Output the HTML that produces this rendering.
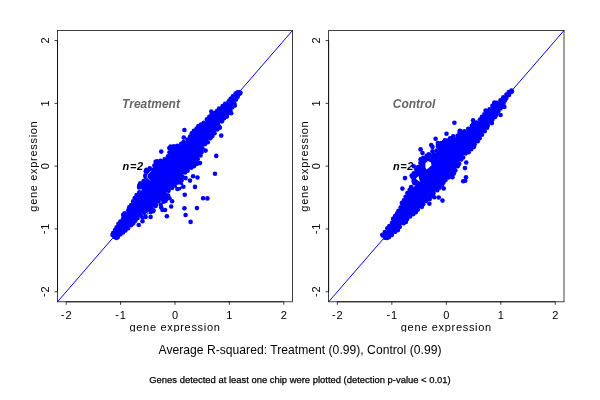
<!DOCTYPE html>
<html><head><meta charset="utf-8"><style>
html,body{margin:0;padding:0;background:#fff;width:600px;height:400px;overflow:hidden}
svg{display:block;will-change:transform}
text{font-family:"Liberation Sans",sans-serif}
.tk{font-size:11px;fill:#000}
.lab{font-size:11px;letter-spacing:0.69px;fill:#000}
.ttl{font-size:12px;font-weight:bold;font-style:italic;fill:#666}
.n{font-size:11px;letter-spacing:0.6px;font-weight:bold;font-style:italic;fill:#000}
.m1{font-size:12.1px;letter-spacing:0.03px;fill:#000}
.m2{font-size:9.43px;fill:#000;stroke:#000;stroke-width:0.25px}
</style></head><body>
<svg width="600" height="400" viewBox="0 0 600 400">
<defs><clipPath id="clipb"><rect x="0" y="0" width="600" height="332"/></clipPath></defs>
<text x="122.1" y="108" class="ttl">Treatment</text>
<text x="122.6" y="169.7" class="n">n=2</text>
<g fill="#0000ff"><path d="M112.44,233.98 L112.58,234.95 L113.97,236.38 L116.42,237.79 L117.26,237.54 L118.85,235.45 L119.00,235.28 L119.17,235.12 L122.22,232.66 L122.23,232.65 L125.36,230.17 L129.08,226.95 L129.13,226.90 L131.54,224.98 L133.43,222.89 L135.38,220.46 L135.48,220.35 L135.58,220.24 L137.97,218.04 L139.87,215.67 L140.01,215.51 L140.17,215.37 L142.53,213.48 L142.68,213.38 L142.83,213.29 L142.99,213.21 L143.16,213.15 L143.34,213.10 L146.20,212.52 L147.73,210.94 L147.87,210.81 L151.54,207.73 L151.69,207.61 L151.86,207.51 L152.03,207.43 L155.67,205.90 L156.09,203.68 L156.13,203.51 L156.19,203.34 L156.26,203.18 L156.35,203.02 L156.45,202.88 L156.56,202.74 L156.69,202.62 L156.82,202.51 L158.94,200.94 L159.10,200.83 L159.28,200.74 L159.45,200.67 L159.64,200.62 L159.83,200.58 L160.02,200.57 L160.22,200.57 L160.41,200.60 L160.60,200.64 L160.78,200.70 L163.50,201.79 L165.15,201.13 L166.08,200.02 L165.86,194.12 L165.86,193.93 L165.88,193.75 L165.92,193.57 L165.97,193.39 L166.05,193.22 L166.13,193.06 L166.24,192.91 L166.35,192.77 L166.48,192.64 L166.63,192.52 L167.97,191.52 L169.48,189.28 L169.60,189.12 L169.73,188.97 L169.88,188.84 L170.04,188.73 L170.22,188.63 L170.40,188.56 L170.59,188.50 L173.70,187.69 L173.88,187.66 L174.07,187.64 L174.25,187.64 L174.43,187.65 L174.61,187.69 L174.79,187.74 L174.96,187.80 L175.12,187.89 L177.39,189.19 L179.44,188.29 L181.05,185.69 L180.72,183.18 L180.71,182.99 L180.71,182.80 L180.74,182.62 L180.78,182.43 L182.39,176.58 L182.44,176.40 L182.52,176.23 L183.68,173.90 L183.77,173.75 L183.87,173.60 L183.98,173.47 L184.11,173.34 L184.24,173.23 L184.39,173.13 L187.23,171.39 L188.98,169.65 L189.11,169.52 L189.26,169.41 L192.86,167.01 L195.21,164.66 L195.33,164.55 L195.46,164.45 L195.60,164.36 L198.00,162.95 L198.00,158.96 L198.01,158.77 L198.04,158.59 L198.08,158.41 L198.14,158.23 L198.22,158.06 L198.32,157.90 L198.43,157.75 L198.56,157.61 L200.61,155.56 L201.12,152.87 L201.19,152.62 L203.05,147.12 L203.12,146.94 L203.21,146.77 L203.32,146.60 L205.08,144.22 L205.20,144.09 L205.32,143.96 L205.46,143.84 L207.60,142.22 L208.64,139.63 L208.73,139.45 L208.83,139.27 L208.95,139.11 L209.09,138.97 L209.24,138.83 L209.41,138.72 L212.08,137.08 L213.80,134.28 L213.84,134.22 L216.30,130.53 L216.40,130.39 L216.52,130.25 L216.65,130.13 L219.67,127.60 L219.30,126.16 L219.26,125.97 L219.24,125.78 L219.24,125.59 L219.26,125.40 L219.30,125.21 L219.35,125.03 L219.43,124.85 L219.52,124.69 L221.28,121.82 L221.40,121.64 L221.55,121.47 L223.91,119.11 L226.30,115.53 L226.40,115.39 L226.52,115.25 L226.65,115.13 L230.09,112.24 L231.81,108.22 L231.86,108.10 L233.75,104.37 L236.25,99.38 L236.25,99.37 L238.13,95.66 L238.22,95.51 L238.32,95.36 L240.19,92.91 L239.48,92.24 L237.51,92.37 L235.92,93.56 L232.28,97.20 L228.59,101.47 L228.46,101.62 L228.31,101.75 L223.35,105.51 L223.30,105.55 L219.00,108.58 L215.99,111.49 L215.86,111.61 L210.90,115.57 L207.61,118.39 L206.30,120.84 L206.21,120.99 L206.11,121.13 L205.99,121.26 L205.87,121.38 L205.73,121.48 L205.59,121.58 L202.03,123.67 L198.43,126.35 L195.41,129.47 L195.39,129.49 L192.12,132.76 L190.63,135.38 L190.55,135.50 L188.66,138.28 L188.64,138.32 L187.23,140.28 L187.11,140.44 L186.97,140.58 L186.82,140.70 L186.66,140.81 L186.49,140.90 L186.31,140.97 L182.08,142.44 L180.58,144.27 L180.45,144.41 L180.31,144.54 L180.15,144.65 L179.99,144.75 L179.82,144.83 L179.63,144.89 L176.66,145.74 L176.49,145.78 L170.69,146.89 L169.60,147.98 L169.87,149.67 L169.89,149.87 L169.89,150.07 L169.87,150.27 L169.83,150.46 L168.87,154.05 L168.80,154.26 L168.71,154.46 L166.92,157.81 L166.82,157.96 L166.72,158.11 L166.60,158.24 L166.46,158.37 L166.32,158.48 L166.16,158.57 L166.00,158.65 L161.88,160.45 L161.71,160.52 L161.53,160.57 L161.36,160.60 L155.85,161.30 L155.70,161.55 L154.53,166.06 L154.47,166.24 L154.40,166.41 L154.31,166.58 L154.20,166.73 L154.08,166.88 L153.95,167.01 L153.80,167.12 L153.64,167.23 L153.48,167.31 L153.30,167.38 L153.12,167.43 L148.02,168.62 L146.22,169.66 L145.86,171.17 L146.52,173.01 L146.57,173.18 L146.61,173.35 L146.63,173.53 L146.63,173.71 L146.62,173.89 L146.59,174.07 L146.54,174.24 L146.47,174.41 L146.39,174.57 L146.30,174.73 L146.19,174.87 L145.35,175.87 L145.90,177.32 L145.96,177.50 L146.00,177.68 L146.02,177.87 L146.02,178.06 L146.01,178.24 L145.98,178.43 L145.92,178.61 L145.86,178.78 L145.77,178.95 L145.67,179.10 L145.55,179.25 L143.60,181.47 L143.47,181.60 L143.32,181.73 L143.17,181.83 L140.47,183.49 L139.01,186.37 L139.27,187.18 L140.63,188.03 L140.78,188.14 L140.92,188.25 L141.05,188.38 L141.16,188.53 L141.26,188.68 L141.35,188.84 L141.42,189.01 L141.47,189.19 L141.50,189.37 L141.52,189.55 L141.52,189.73 L141.50,189.92 L141.47,190.10 L141.42,190.27 L141.35,190.44 L141.26,190.60 L141.16,190.76 L141.05,190.90 L140.92,191.03 L140.78,191.15 L138.42,192.96 L136.16,195.22 L134.78,198.07 L133.82,200.47 L133.74,200.65 L133.64,200.82 L131.18,204.50 L129.38,207.50 L128.29,210.67 L128.21,210.86 L128.12,211.03 L128.01,211.20 L127.88,211.35 L127.74,211.49 L127.58,211.61 L127.41,211.72 L124.17,213.51 L123.45,215.00 L123.92,216.00 L124.00,216.17 L124.05,216.35 L124.09,216.53 L124.10,216.71 L124.11,216.90 L124.09,217.08 L124.05,217.26 L124.00,217.44 L123.93,217.61 L123.85,217.77 L123.75,217.93 L123.63,218.07 L121.69,220.28 L121.55,220.43 L121.39,220.56 L119.21,222.17 L117.51,225.60 L117.44,225.73 L115.62,228.79 L115.50,228.97 L113.70,231.33 L112.44,233.98Z"/><circle cx="240.50" cy="92.87" r="2.3"/><circle cx="239.50" cy="92.20" r="2.3"/><circle cx="237.51" cy="92.37" r="2.3"/><circle cx="235.48" cy="93.63" r="2.3"/><circle cx="232.88" cy="96.21" r="2.3"/><circle cx="230.59" cy="98.77" r="2.3"/><circle cx="228.71" cy="101.27" r="2.3"/><circle cx="225.11" cy="103.89" r="2.3"/><circle cx="222.59" cy="106.14" r="2.3"/><circle cx="219.12" cy="108.55" r="2.3"/><circle cx="216.96" cy="110.95" r="2.3"/><circle cx="214.44" cy="113.02" r="2.3"/><circle cx="211.54" cy="114.79" r="2.3"/><circle cx="209.23" cy="116.85" r="2.3"/><circle cx="206.91" cy="119.29" r="2.3"/><circle cx="203.82" cy="122.71" r="2.3"/><circle cx="201.04" cy="124.44" r="2.3"/><circle cx="198.40" cy="126.05" r="2.3"/><circle cx="196.56" cy="128.44" r="2.3"/><circle cx="193.88" cy="130.84" r="2.3"/><circle cx="191.77" cy="133.31" r="2.3"/><circle cx="190.12" cy="136.45" r="2.3"/><circle cx="187.59" cy="139.51" r="2.3"/><circle cx="183.57" cy="141.94" r="2.3"/><circle cx="181.23" cy="143.70" r="2.3"/><circle cx="177.29" cy="145.86" r="2.3"/><circle cx="173.95" cy="146.22" r="2.3"/><circle cx="170.55" cy="146.66" r="2.3"/><circle cx="169.29" cy="147.98" r="2.3"/><circle cx="169.50" cy="152.28" r="2.3"/><circle cx="168.02" cy="156.22" r="2.3"/><circle cx="164.69" cy="159.35" r="2.3"/><circle cx="160.62" cy="160.74" r="2.3"/><circle cx="157.07" cy="161.35" r="2.3"/><circle cx="155.59" cy="161.91" r="2.3"/><circle cx="154.38" cy="165.59" r="2.3"/><circle cx="149.74" cy="168.31" r="2.3"/><circle cx="146.40" cy="169.78" r="2.3"/><circle cx="145.79" cy="171.16" r="2.3"/><circle cx="145.39" cy="175.38" r="2.3"/><circle cx="145.53" cy="176.90" r="2.3"/><circle cx="143.62" cy="181.05" r="2.3"/><circle cx="140.27" cy="183.30" r="2.3"/><circle cx="139.16" cy="185.92" r="2.3"/><circle cx="139.13" cy="187.39" r="2.3"/><circle cx="139.31" cy="192.31" r="2.3"/><circle cx="136.58" cy="195.08" r="2.3"/><circle cx="134.69" cy="197.94" r="2.3"/><circle cx="133.15" cy="201.39" r="2.3"/><circle cx="131.22" cy="204.97" r="2.3"/><circle cx="129.20" cy="207.40" r="2.3"/><circle cx="128.26" cy="210.26" r="2.3"/><circle cx="124.59" cy="213.34" r="2.3"/><circle cx="123.18" cy="214.88" r="2.3"/><circle cx="123.12" cy="218.53" r="2.3"/><circle cx="120.37" cy="221.65" r="2.3"/><circle cx="118.44" cy="223.74" r="2.3"/><circle cx="116.65" cy="227.26" r="2.3"/><circle cx="114.95" cy="230.09" r="2.3"/><circle cx="113.10" cy="233.13" r="2.3"/><circle cx="112.49" cy="235.01" r="2.3"/><circle cx="114.39" cy="236.90" r="2.3"/><circle cx="116.52" cy="238.03" r="2.3"/><circle cx="118.01" cy="236.85" r="2.3"/><circle cx="120.47" cy="234.20" r="2.3"/><circle cx="123.00" cy="232.43" r="2.3"/><circle cx="125.46" cy="230.39" r="2.3"/><circle cx="128.07" cy="228.20" r="2.3"/><circle cx="131.08" cy="225.25" r="2.3"/><circle cx="133.24" cy="223.33" r="2.3"/><circle cx="135.30" cy="220.69" r="2.3"/><circle cx="137.59" cy="218.11" r="2.3"/><circle cx="140.67" cy="215.00" r="2.3"/><circle cx="144.59" cy="213.10" r="2.3"/><circle cx="146.46" cy="212.38" r="2.3"/><circle cx="148.84" cy="209.74" r="2.3"/><circle cx="151.61" cy="208.04" r="2.3"/><circle cx="155.66" cy="205.89" r="2.3"/><circle cx="155.89" cy="204.59" r="2.3"/><circle cx="158.51" cy="201.24" r="2.3"/><circle cx="163.50" cy="201.68" r="2.3"/><circle cx="165.57" cy="200.85" r="2.3"/><circle cx="166.24" cy="198.94" r="2.3"/><circle cx="165.87" cy="194.95" r="2.3"/><circle cx="168.53" cy="190.87" r="2.3"/><circle cx="171.93" cy="187.96" r="2.3"/><circle cx="177.40" cy="188.95" r="2.3"/><circle cx="179.20" cy="188.19" r="2.3"/><circle cx="180.95" cy="186.16" r="2.3"/><circle cx="180.89" cy="183.80" r="2.3"/><circle cx="181.68" cy="180.20" r="2.3"/><circle cx="182.44" cy="176.92" r="2.3"/><circle cx="185.08" cy="172.38" r="2.3"/><circle cx="187.60" cy="170.65" r="2.3"/><circle cx="191.28" cy="167.74" r="2.3"/><circle cx="193.95" cy="166.16" r="2.3"/><circle cx="196.84" cy="163.84" r="2.3"/><circle cx="197.95" cy="162.94" r="2.3"/><circle cx="197.80" cy="159.08" r="2.3"/><circle cx="200.58" cy="155.55" r="2.3"/><circle cx="201.66" cy="152.00" r="2.3"/><circle cx="202.43" cy="148.18" r="2.3"/><circle cx="204.87" cy="144.25" r="2.3"/><circle cx="207.78" cy="142.32" r="2.3"/><circle cx="210.30" cy="138.29" r="2.3"/><circle cx="212.36" cy="136.09" r="2.3"/><circle cx="214.56" cy="133.24" r="2.3"/><circle cx="217.34" cy="129.38" r="2.3"/><circle cx="219.86" cy="127.76" r="2.3"/><circle cx="219.15" cy="126.54" r="2.3"/><circle cx="221.95" cy="121.37" r="2.3"/><circle cx="224.07" cy="118.35" r="2.3"/><circle cx="226.92" cy="115.02" r="2.3"/><circle cx="229.85" cy="112.74" r="2.3"/><circle cx="230.46" cy="110.65" r="2.3"/><circle cx="232.33" cy="107.13" r="2.3"/><circle cx="234.28" cy="103.40" r="2.3"/><circle cx="235.92" cy="99.60" r="2.3"/><circle cx="237.71" cy="96.83" r="2.3"/><circle cx="239.74" cy="93.75" r="2.3"/><circle cx="153.50" cy="210.30" r="2.3"/><circle cx="234.80" cy="105.40" r="2.3"/><circle cx="231.20" cy="113.30" r="2.3"/><circle cx="226.80" cy="116.60" r="2.3"/><circle cx="211.30" cy="111.50" r="2.3"/><circle cx="184.40" cy="130.00" r="2.3"/><circle cx="183.75" cy="137.50" r="2.3"/><circle cx="161.25" cy="151.60" r="2.3"/><circle cx="221.25" cy="135.60" r="2.3"/><circle cx="216.25" cy="155.90" r="2.3"/><circle cx="215.00" cy="173.75" r="2.3"/><circle cx="205.60" cy="150.60" r="2.3"/><circle cx="200.00" cy="163.10" r="2.3"/><circle cx="193.10" cy="176.25" r="2.3"/><circle cx="197.50" cy="177.50" r="2.3"/><circle cx="190.00" cy="180.60" r="2.3"/><circle cx="185.60" cy="178.10" r="2.3"/><circle cx="195.00" cy="186.90" r="2.3"/><circle cx="183.40" cy="186.80" r="2.3"/><circle cx="184.75" cy="194.75" r="2.3"/><circle cx="203.10" cy="198.30" r="2.3"/><circle cx="207.40" cy="198.40" r="2.3"/><circle cx="184.40" cy="208.30" r="2.3"/><circle cx="196.90" cy="208.10" r="2.3"/><circle cx="185.60" cy="215.00" r="2.3"/><circle cx="190.60" cy="221.90" r="2.3"/><circle cx="166.90" cy="216.25" r="2.3"/><circle cx="150.60" cy="216.90" r="2.3"/><circle cx="145.60" cy="216.90" r="2.3"/><circle cx="172.10" cy="201.25" r="2.3"/><circle cx="171.20" cy="206.50" r="2.3"/><circle cx="168.10" cy="195.60" r="2.3"/><circle cx="169.40" cy="198.20" r="2.3"/><circle cx="160.70" cy="204.75" r="2.3"/><circle cx="161.25" cy="207.50" r="2.3"/><circle cx="162.50" cy="210.00" r="2.3"/><circle cx="165.00" cy="210.00" r="2.3"/><circle cx="153.10" cy="211.25" r="2.3"/><circle cx="150.60" cy="211.90" r="2.3"/><circle cx="138.75" cy="225.00" r="2.3"/><circle cx="142.50" cy="221.25" r="2.3"/><circle cx="142.50" cy="217.50" r="2.3"/></g><g fill="#fff"><polygon points="176.50,185.80 178.00,184.50 181.00,184.70 181.60,186.00 179.50,187.10 177.00,186.90"/></g><g fill="none" stroke="#fff" stroke-width="0.8" stroke-opacity="0.85" stroke-linecap="round"><path d="M151,171 L147.6,174.6 L147.1,177.2 L149.8,180.2"/><path d="M148.7,212.2 L146,214"/></g>
<line x1="57.5" y1="301.8" x2="292.5" y2="30.5" stroke="#0000ff" stroke-width="1"/>
<rect x="57.5" y="30.5" width="235.0" height="271.3" fill="none" stroke="#000" stroke-width="0.75"/>
<line x1="66.20370370370371" y1="301.8" x2="283.7962962962963" y2="301.8" stroke="#000" stroke-width="0.75"/>
<line x1="57.5" y1="291.7518518518519" x2="57.5" y2="40.54814814814819" stroke="#000" stroke-width="0.75"/>
<line x1="66.20" y1="301.8" x2="66.20" y2="304.8" stroke="#000" stroke-width="0.75"/>
<line x1="54.5" y1="291.75" x2="57.5" y2="291.75" stroke="#000" stroke-width="0.75"/>
<text x="66.20" y="319" class="tk" text-anchor="middle"><tspan dy="-1.1">-</tspan><tspan dy="1.1" dx="0.9">2</tspan></text>
<text transform="translate(48.5,291.75) rotate(-90)" class="tk" text-anchor="middle"><tspan dy="-1.1">-</tspan><tspan dy="1.1" dx="0.9">2</tspan></text>
<line x1="120.60" y1="301.8" x2="120.60" y2="304.8" stroke="#000" stroke-width="0.75"/>
<line x1="54.5" y1="228.95" x2="57.5" y2="228.95" stroke="#000" stroke-width="0.75"/>
<text x="120.60" y="319" class="tk" text-anchor="middle"><tspan dy="-1.1">-</tspan><tspan dy="1.1" dx="0.9">1</tspan></text>
<text transform="translate(48.5,228.95) rotate(-90)" class="tk" text-anchor="middle"><tspan dy="-1.1">-</tspan><tspan dy="1.1" dx="0.9">1</tspan></text>
<line x1="175.00" y1="301.8" x2="175.00" y2="304.8" stroke="#000" stroke-width="0.75"/>
<line x1="54.5" y1="166.15" x2="57.5" y2="166.15" stroke="#000" stroke-width="0.75"/>
<text x="175.00" y="319" class="tk" text-anchor="middle">0</text>
<text transform="translate(48.5,166.15) rotate(-90)" class="tk" text-anchor="middle">0</text>
<line x1="229.40" y1="301.8" x2="229.40" y2="304.8" stroke="#000" stroke-width="0.75"/>
<line x1="54.5" y1="103.35" x2="57.5" y2="103.35" stroke="#000" stroke-width="0.75"/>
<text x="229.40" y="319" class="tk" text-anchor="middle">1</text>
<text transform="translate(48.5,103.35) rotate(-90)" class="tk" text-anchor="middle">1</text>
<line x1="283.80" y1="301.8" x2="283.80" y2="304.8" stroke="#000" stroke-width="0.75"/>
<line x1="54.5" y1="40.55" x2="57.5" y2="40.55" stroke="#000" stroke-width="0.75"/>
<text x="283.80" y="319" class="tk" text-anchor="middle">2</text>
<text transform="translate(48.5,40.55) rotate(-90)" class="tk" text-anchor="middle">2</text>
<text x="175.00" y="330.8" class="lab" text-anchor="middle" clip-path="url(#clipb)">gene expression</text>
<text transform="translate(37.2,166.15) rotate(-90)" class="lab" text-anchor="middle">gene expression</text>
<text x="392.8" y="108" class="ttl">Control</text>
<text x="393.0" y="169.7" class="n">n=2</text>
<g fill="#0000ff"><path d="M382.41,235.29 L383.03,236.14 L384.95,237.76 L386.62,238.31 L388.08,238.09 L389.23,236.95 L389.36,236.82 L389.51,236.71 L391.55,235.35 L393.28,233.26 L393.40,233.13 L393.53,233.01 L393.67,232.90 L395.81,231.45 L395.84,231.42 L397.87,230.10 L399.55,227.38 L399.62,227.27 L401.38,224.81 L401.49,224.67 L401.61,224.54 L401.74,224.42 L401.88,224.32 L402.04,224.23 L402.20,224.15 L404.51,223.19 L406.33,221.65 L407.41,218.97 L407.49,218.80 L407.59,218.63 L407.70,218.48 L407.83,218.34 L410.87,215.30 L410.98,215.20 L411.10,215.10 L411.24,215.02 L414.20,213.25 L417.09,210.92 L418.83,208.63 L418.94,208.49 L419.07,208.37 L419.20,208.26 L419.35,208.16 L422.03,206.51 L423.69,203.23 L423.79,203.07 L423.90,202.91 L424.03,202.76 L424.17,202.63 L424.33,202.51 L429.61,198.98 L434.43,192.33 L434.53,192.20 L434.64,192.08 L434.77,191.97 L438.42,188.99 L442.61,184.18 L444.37,181.24 L444.45,181.10 L444.55,180.98 L444.65,180.87 L447.71,177.81 L447.84,177.69 L447.97,177.59 L448.11,177.50 L452.19,175.16 L455.01,171.80 L456.15,168.37 L456.21,168.21 L456.29,168.06 L456.37,167.92 L458.73,164.38 L459.88,160.92 L459.95,160.75 L460.03,160.60 L460.12,160.45 L460.22,160.31 L460.34,160.18 L463.13,157.39 L463.59,155.48 L463.64,155.30 L463.72,155.12 L463.81,154.95 L463.92,154.79 L464.04,154.64 L464.18,154.50 L464.33,154.38 L464.50,154.28 L468.54,151.98 L470.91,149.61 L473.81,146.71 L474.91,143.97 L474.99,143.80 L475.09,143.64 L475.20,143.49 L475.32,143.35 L478.87,139.75 L481.85,134.36 L481.95,134.21 L482.06,134.06 L485.13,130.41 L486.32,128.65 L486.41,128.52 L486.52,128.40 L487.46,127.42 L487.99,124.90 L488.04,124.71 L488.11,124.53 L488.20,124.35 L488.30,124.19 L488.42,124.04 L488.55,123.90 L488.70,123.77 L490.84,122.15 L492.52,119.34 L492.60,119.20 L492.70,119.08 L492.80,118.97 L495.10,116.67 L497.46,111.95 L497.56,111.77 L497.68,111.60 L497.82,111.45 L501.33,107.94 L504.31,101.36 L504.38,101.23 L504.45,101.10 L506.92,97.35 L507.03,97.20 L509.49,94.14 L509.63,93.99 L511.84,91.78 L511.96,91.34 L511.40,90.67 L510.52,90.75 L508.42,92.31 L502.24,98.49 L502.23,98.50 L499.14,101.54 L498.99,101.67 L498.84,101.78 L498.67,101.88 L495.15,103.69 L493.00,105.32 L491.89,107.45 L491.79,107.62 L491.68,107.78 L491.54,107.92 L491.40,108.06 L488.40,110.47 L488.22,110.60 L486.49,111.70 L483.01,115.26 L481.21,118.20 L481.06,118.42 L478.07,122.03 L477.95,122.16 L477.82,122.28 L477.68,122.39 L477.52,122.48 L477.36,122.56 L477.20,122.63 L472.24,124.25 L471.30,126.13 L471.20,126.30 L471.09,126.46 L470.96,126.61 L470.82,126.74 L467.18,129.79 L467.06,129.89 L466.92,129.98 L463.97,131.71 L463.80,131.80 L463.62,131.87 L463.43,131.93 L463.23,131.96 L463.04,131.97 L462.84,131.97 L462.65,131.94 L460.59,131.54 L459.26,133.28 L457.55,136.15 L457.45,136.30 L457.34,136.43 L457.22,136.56 L457.09,136.68 L456.94,136.78 L456.79,136.87 L456.63,136.94 L456.46,137.00 L452.41,138.21 L450.02,139.36 L446.28,141.23 L446.08,141.31 L445.87,141.37 L443.54,141.93 L440.55,143.19 L440.50,143.21 L438.15,144.12 L437.63,147.11 L437.59,147.31 L436.40,151.44 L436.34,151.61 L436.27,151.78 L436.17,151.94 L436.07,152.09 L435.94,152.23 L435.81,152.36 L435.66,152.47 L435.51,152.57 L431.78,154.67 L431.60,154.76 L431.43,154.82 L431.24,154.87 L431.05,154.90 L429.05,155.13 L427.04,155.80 L422.33,158.15 L420.90,159.58 L420.90,161.92 L420.89,162.12 L420.86,162.32 L420.80,162.52 L419.88,165.29 L419.81,165.47 L419.72,165.64 L419.62,165.80 L419.50,165.95 L419.36,166.09 L419.22,166.21 L417.50,167.50 L416.17,169.27 L414.25,172.64 L414.16,172.78 L414.06,172.91 L413.94,173.04 L412.14,174.84 L412.00,174.97 L411.85,175.08 L411.69,175.18 L411.68,175.18 L411.56,175.55 L412.85,177.27 L412.95,177.41 L413.03,177.56 L413.10,177.71 L413.15,177.87 L413.20,178.04 L413.77,180.89 L414.27,182.91 L414.77,183.44 L414.89,183.59 L415.00,183.74 L415.09,183.91 L415.17,184.08 L415.22,184.26 L415.26,184.44 L415.28,184.63 L415.28,184.82 L415.27,185.01 L415.23,185.19 L415.18,185.38 L415.10,185.55 L415.01,185.72 L414.91,185.87 L414.79,186.02 L414.66,186.15 L414.51,186.27 L414.35,186.38 L414.18,186.46 L414.01,186.54 L413.83,186.59 L413.64,186.62 L413.45,186.64 L412.09,186.69 L411.12,187.07 L410.74,188.20 L410.69,188.35 L410.62,188.49 L409.82,190.01 L409.80,190.05 L409.74,190.21 L409.66,190.37 L409.57,190.51 L409.47,190.65 L409.35,190.78 L408.05,192.08 L404.36,199.36 L404.25,199.55 L401.89,203.09 L400.77,207.19 L400.71,207.39 L400.62,207.57 L400.51,207.75 L398.11,211.31 L396.27,214.98 L396.19,215.14 L396.09,215.28 L394.23,217.73 L394.12,217.86 L393.35,218.70 L392.37,222.06 L392.31,222.22 L392.24,222.37 L392.16,222.52 L392.07,222.66 L389.89,225.56 L389.71,225.77 L387.28,228.20 L386.32,230.48 L386.24,230.65 L386.14,230.81 L386.02,230.96 L384.18,233.14 L384.08,233.25 L382.52,234.81 L382.41,235.29Z"/><circle cx="409.64" cy="190.08" r="2.3"/><circle cx="407.35" cy="192.96" r="2.3"/><circle cx="405.58" cy="196.76" r="2.3"/><circle cx="403.89" cy="200.18" r="2.3"/><circle cx="401.84" cy="203.11" r="2.3"/><circle cx="400.75" cy="207.27" r="2.3"/><circle cx="398.47" cy="210.80" r="2.3"/><circle cx="397.12" cy="213.22" r="2.3"/><circle cx="395.07" cy="216.13" r="2.3"/><circle cx="393.10" cy="218.88" r="2.3"/><circle cx="391.96" cy="223.03" r="2.3"/><circle cx="389.32" cy="226.01" r="2.3"/><circle cx="387.31" cy="228.21" r="2.3"/><circle cx="384.87" cy="231.95" r="2.3"/><circle cx="382.40" cy="234.71" r="2.3"/><circle cx="382.69" cy="235.40" r="2.3"/><circle cx="384.89" cy="237.66" r="2.3"/><circle cx="387.06" cy="238.00" r="2.3"/><circle cx="388.99" cy="237.09" r="2.3"/><circle cx="391.79" cy="235.05" r="2.3"/><circle cx="394.99" cy="232.04" r="2.3"/><circle cx="397.89" cy="230.12" r="2.3"/><circle cx="399.78" cy="226.85" r="2.3"/><circle cx="403.52" cy="223.31" r="2.3"/><circle cx="405.85" cy="222.01" r="2.3"/><circle cx="407.15" cy="219.08" r="2.3"/><circle cx="410.10" cy="216.39" r="2.3"/><circle cx="413.31" cy="214.08" r="2.3"/><circle cx="415.81" cy="212.28" r="2.3"/><circle cx="417.89" cy="209.58" r="2.3"/><circle cx="421.88" cy="206.85" r="2.3"/><circle cx="423.10" cy="204.18" r="2.3"/><circle cx="425.92" cy="201.17" r="2.3"/><circle cx="429.68" cy="199.13" r="2.3"/><circle cx="431.73" cy="196.15" r="2.3"/><circle cx="433.58" cy="193.00" r="2.3"/><circle cx="437.25" cy="190.21" r="2.3"/><circle cx="439.44" cy="187.81" r="2.3"/><circle cx="441.84" cy="185.34" r="2.3"/><circle cx="443.36" cy="182.65" r="2.3"/><circle cx="445.55" cy="179.93" r="2.3"/><circle cx="448.72" cy="177.48" r="2.3"/><circle cx="451.52" cy="175.46" r="2.3"/><circle cx="453.84" cy="173.59" r="2.3"/><circle cx="455.30" cy="170.38" r="2.3"/><circle cx="457.73" cy="166.32" r="2.3"/><circle cx="459.20" cy="163.83" r="2.3"/><circle cx="461.17" cy="159.54" r="2.3"/><circle cx="463.18" cy="157.43" r="2.3"/><circle cx="465.64" cy="153.41" r="2.3"/><circle cx="468.66" cy="152.16" r="2.3"/><circle cx="471.19" cy="149.27" r="2.3"/><circle cx="474.02" cy="146.87" r="2.3"/><circle cx="474.66" cy="144.30" r="2.3"/><circle cx="477.72" cy="141.28" r="2.3"/><circle cx="479.67" cy="138.14" r="2.3"/><circle cx="481.92" cy="134.76" r="2.3"/><circle cx="484.70" cy="131.32" r="2.3"/><circle cx="487.11" cy="127.82" r="2.3"/><circle cx="487.81" cy="125.62" r="2.3"/><circle cx="490.98" cy="122.19" r="2.3"/><circle cx="492.47" cy="119.39" r="2.3"/><circle cx="495.26" cy="116.84" r="2.3"/><circle cx="496.50" cy="114.48" r="2.3"/><circle cx="498.30" cy="111.13" r="2.3"/><circle cx="500.51" cy="108.54" r="2.3"/><circle cx="502.02" cy="106.41" r="2.3"/><circle cx="503.44" cy="103.50" r="2.3"/><circle cx="504.97" cy="100.58" r="2.3"/><circle cx="506.39" cy="97.90" r="2.3"/><circle cx="509.03" cy="95.01" r="2.3"/><circle cx="511.32" cy="91.93" r="2.3"/><circle cx="511.91" cy="91.36" r="2.3"/><circle cx="511.40" cy="90.66" r="2.3"/><circle cx="508.77" cy="91.98" r="2.3"/><circle cx="506.45" cy="94.44" r="2.3"/><circle cx="503.28" cy="97.32" r="2.3"/><circle cx="500.52" cy="100.36" r="2.3"/><circle cx="496.86" cy="102.75" r="2.3"/><circle cx="494.06" cy="104.18" r="2.3"/><circle cx="492.41" cy="105.90" r="2.3"/><circle cx="489.48" cy="109.41" r="2.3"/><circle cx="486.64" cy="111.30" r="2.3"/><circle cx="484.34" cy="114.22" r="2.3"/><circle cx="481.98" cy="116.70" r="2.3"/><circle cx="479.92" cy="119.60" r="2.3"/><circle cx="476.61" cy="122.60" r="2.3"/><circle cx="473.23" cy="123.78" r="2.3"/><circle cx="471.78" cy="125.81" r="2.3"/><circle cx="468.27" cy="128.68" r="2.3"/><circle cx="464.53" cy="131.25" r="2.3"/><circle cx="460.53" cy="131.14" r="2.3"/><circle cx="459.46" cy="133.00" r="2.3"/><circle cx="457.52" cy="135.85" r="2.3"/><circle cx="453.10" cy="137.69" r="2.3"/><circle cx="450.29" cy="138.95" r="2.3"/><circle cx="447.15" cy="140.48" r="2.3"/><circle cx="443.98" cy="141.71" r="2.3"/><circle cx="441.24" cy="142.95" r="2.3"/><circle cx="438.20" cy="144.20" r="2.3"/><circle cx="437.91" cy="146.29" r="2.3"/><circle cx="436.61" cy="150.46" r="2.3"/><circle cx="433.54" cy="154.01" r="2.3"/><circle cx="429.74" cy="155.18" r="2.3"/><circle cx="426.59" cy="155.71" r="2.3"/><circle cx="423.16" cy="158.00" r="2.3"/><circle cx="420.99" cy="159.64" r="2.3"/><circle cx="420.43" cy="162.95" r="2.3"/><circle cx="418.19" cy="166.99" r="2.3"/><circle cx="416.21" cy="169.56" r="2.3"/><circle cx="413.67" cy="173.38" r="2.3"/><circle cx="411.66" cy="175.58" r="2.3"/><circle cx="412.64" cy="177.25" r="2.3"/><circle cx="413.55" cy="180.92" r="2.3"/><circle cx="414.31" cy="183.29" r="2.3"/><circle cx="411.08" cy="187.02" r="2.3"/><circle cx="409.99" cy="189.83" r="2.3"/><circle cx="466.00" cy="177.30" r="2.3"/><circle cx="463.20" cy="181.30" r="2.3"/><circle cx="465.20" cy="180.80" r="2.3"/><circle cx="452.50" cy="177.30" r="2.3"/><circle cx="450.10" cy="138.20" r="2.3"/><circle cx="453.20" cy="136.40" r="2.3"/><circle cx="444.90" cy="140.40" r="2.3"/><circle cx="459.70" cy="130.70" r="2.3"/><circle cx="437.90" cy="143.00" r="2.3"/><circle cx="494.40" cy="102.50" r="2.3"/><circle cx="485.60" cy="110.60" r="2.3"/><circle cx="473.10" cy="120.30" r="2.3"/><circle cx="504.40" cy="106.90" r="2.3"/><circle cx="500.60" cy="115.00" r="2.3"/><circle cx="491.90" cy="123.10" r="2.3"/><circle cx="454.40" cy="122.75" r="2.3"/><circle cx="446.50" cy="133.75" r="2.3"/><circle cx="435.60" cy="138.75" r="2.3"/><circle cx="431.25" cy="145.00" r="2.3"/><circle cx="432.50" cy="146.90" r="2.3"/><circle cx="420.60" cy="149.40" r="2.3"/><circle cx="422.50" cy="153.10" r="2.3"/><circle cx="428.75" cy="154.40" r="2.3"/><circle cx="432.50" cy="151.25" r="2.3"/><circle cx="466.25" cy="162.50" r="2.3"/><circle cx="465.00" cy="168.10" r="2.3"/><circle cx="420.60" cy="159.40" r="2.3"/><circle cx="413.75" cy="166.25" r="2.3"/><circle cx="405.00" cy="178.10" r="2.3"/><circle cx="402.40" cy="188.60" r="2.3"/><circle cx="443.75" cy="188.50" r="2.3"/><circle cx="434.40" cy="197.25" r="2.3"/><circle cx="438.75" cy="197.50" r="2.3"/><circle cx="442.50" cy="200.60" r="2.3"/><circle cx="429.40" cy="203.75" r="2.3"/></g><g fill="#fff"><polygon points="425.50,163.00 428.00,161.00 431.00,162.50 431.50,165.50 428.50,168.00 426.50,169.50 425.30,167.00"/><polygon points="415.80,178.80 418.40,176.00 420.00,182.00"/></g>
<line x1="328.65" y1="301.8" x2="564.0" y2="30.5" stroke="#0000ff" stroke-width="1"/>
<rect x="328.65" y="30.5" width="235.35000000000002" height="271.3" fill="none" stroke="#000" stroke-width="0.75"/>
<line x1="337.3666666666667" y1="301.8" x2="555.2833333333333" y2="301.8" stroke="#000" stroke-width="0.75"/>
<line x1="328.65" y1="291.7518518518519" x2="328.65" y2="40.54814814814819" stroke="#000" stroke-width="0.75"/>
<line x1="337.37" y1="301.8" x2="337.37" y2="304.8" stroke="#000" stroke-width="0.75"/>
<line x1="325.65" y1="291.75" x2="328.65" y2="291.75" stroke="#000" stroke-width="0.75"/>
<text x="337.37" y="319" class="tk" text-anchor="middle"><tspan dy="-1.1">-</tspan><tspan dy="1.1" dx="0.9">2</tspan></text>
<text transform="translate(319.65,291.75) rotate(-90)" class="tk" text-anchor="middle"><tspan dy="-1.1">-</tspan><tspan dy="1.1" dx="0.9">2</tspan></text>
<line x1="391.85" y1="301.8" x2="391.85" y2="304.8" stroke="#000" stroke-width="0.75"/>
<line x1="325.65" y1="228.95" x2="328.65" y2="228.95" stroke="#000" stroke-width="0.75"/>
<text x="391.85" y="319" class="tk" text-anchor="middle"><tspan dy="-1.1">-</tspan><tspan dy="1.1" dx="0.9">1</tspan></text>
<text transform="translate(319.65,228.95) rotate(-90)" class="tk" text-anchor="middle"><tspan dy="-1.1">-</tspan><tspan dy="1.1" dx="0.9">1</tspan></text>
<line x1="446.32" y1="301.8" x2="446.32" y2="304.8" stroke="#000" stroke-width="0.75"/>
<line x1="325.65" y1="166.15" x2="328.65" y2="166.15" stroke="#000" stroke-width="0.75"/>
<text x="446.32" y="319" class="tk" text-anchor="middle">0</text>
<text transform="translate(319.65,166.15) rotate(-90)" class="tk" text-anchor="middle">0</text>
<line x1="500.80" y1="301.8" x2="500.80" y2="304.8" stroke="#000" stroke-width="0.75"/>
<line x1="325.65" y1="103.35" x2="328.65" y2="103.35" stroke="#000" stroke-width="0.75"/>
<text x="500.80" y="319" class="tk" text-anchor="middle">1</text>
<text transform="translate(319.65,103.35) rotate(-90)" class="tk" text-anchor="middle">1</text>
<line x1="555.28" y1="301.8" x2="555.28" y2="304.8" stroke="#000" stroke-width="0.75"/>
<line x1="325.65" y1="40.55" x2="328.65" y2="40.55" stroke="#000" stroke-width="0.75"/>
<text x="555.28" y="319" class="tk" text-anchor="middle">2</text>
<text transform="translate(319.65,40.55) rotate(-90)" class="tk" text-anchor="middle">2</text>
<text x="446.32" y="330.8" class="lab" text-anchor="middle" clip-path="url(#clipb)">gene expression</text>
<text transform="translate(308.34999999999997,166.15) rotate(-90)" class="lab" text-anchor="middle">gene expression</text>
<text x="300" y="353.7" class="m1" text-anchor="middle">Average R-squared: Treatment (0.99), Control (0.99)</text>
<text x="300" y="382.7" class="m2" text-anchor="middle">Genes detected at least one chip were plotted (detection p-value &lt; 0.01)</text>
</svg>
</body></html>
